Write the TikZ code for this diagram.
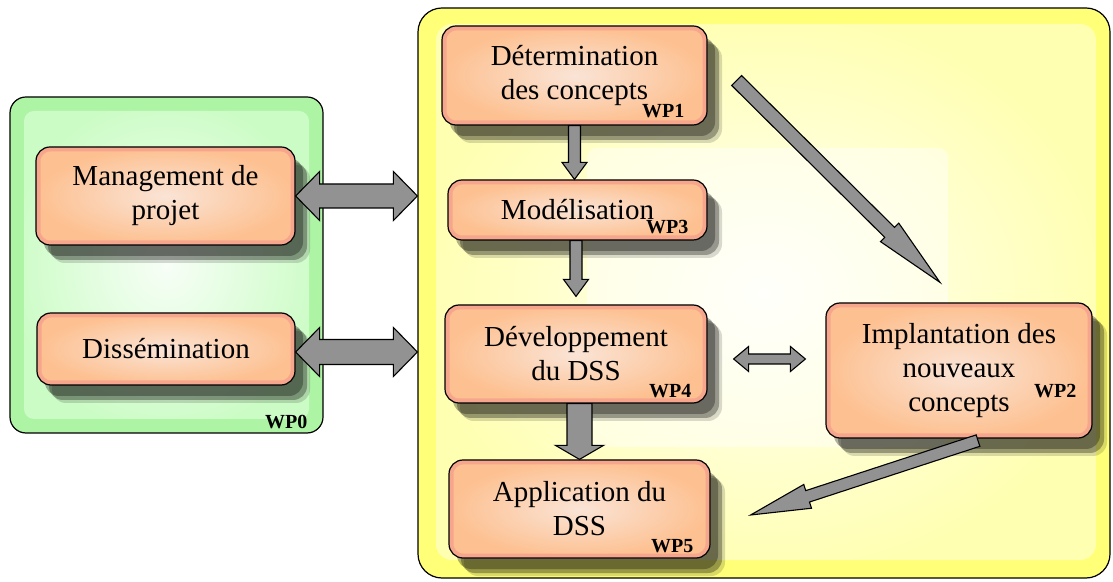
\documentclass[tikz,border=0pt]{standalone}
\usepackage{fontspec}
\setmainfont{Liberation Serif}
\usetikzlibrary{calc,shadows,positioning}
\definecolor{cbox}{RGB}{253,192,144}
\definecolor{cboxin}{RGB}{250,228,214}
\definecolor{crim}{RGB}{247,166,142}
\definecolor{cgreen}{RGB}{173,244,165}
\definecolor{cgreenin}{RGB}{204,252,198}
\definecolor{cyellow}{RGB}{255,255,120}
\definecolor{cyellowin}{RGB}{255,255,178}
\definecolor{carrow}{RGB}{146,146,146}
\newcommand{\boxfont}{\fontsize{29}{34}\selectfont}
\newcommand{\wpfont}{\fontsize{20}{20}\selectfont\bfseries}
% block arrow: tail, tip, shaft half width, head half width, head length
\newcommand{\blockarrow}[5]{%
  \coordinate (ba-h) at ($(#2)!#5!(#1)$);
  \draw[barrow] ($(#1)!#3!90:(#2)$) -- ($(ba-h)!#3!-90:(#1)$) -- ($(ba-h)!#4!-90:(#1)$) -- (#2)
    -- ($(ba-h)!#4!90:(#1)$) -- ($(ba-h)!#3!90:(#1)$) -- ($(#1)!#3!-90:(#2)$) -- cycle;}
% same, with a head at both ends
\newcommand{\dblarrow}[5]{%
  \coordinate (da-a) at ($(#1)!#5!(#2)$);
  \coordinate (da-b) at ($(#2)!#5!(#1)$);
  \draw[barrow] (#1) -- ($(da-a)!#4!90:(#2)$) -- ($(da-a)!#3!90:(#2)$) -- ($(da-b)!#3!-90:(#1)$)
    -- ($(da-b)!#4!-90:(#1)$) -- (#2) -- ($(da-b)!#4!90:(#1)$) -- ($(da-b)!#3!90:(#1)$)
    -- ($(da-a)!#3!-90:(#2)$) -- ($(da-a)!#4!-90:(#2)$) -- cycle;}
\tikzset{
  barrow/.style={fill=carrow, draw=black, line width=1.1pt, line join=miter},
  bgbox/.style={draw=black, line width=1.2pt, rounded corners=16pt, inner sep=0pt},
  wpbox/.style={draw=black, line width=1.2pt, rounded corners=14pt, inner sep=2pt,
    align=center, font=\boxfont, inner color=cboxin, outer color=cbox,
    drop shadow={shadow xshift=8pt, shadow yshift=-11pt, fill=black, opacity=.3},
    drop shadow={shadow xshift=12pt, shadow yshift=-15pt, fill=black, opacity=.3},
    drop shadow={shadow xshift=15pt, shadow yshift=-18pt, fill=black, opacity=.15},
    path picture={\draw[crim, line width=9pt, rounded corners=14pt]
      (path picture bounding box.south west) rectangle (path picture bounding box.north east);}},
  wplabel/.style={font=\wpfont, inner sep=0pt, anchor=base east},
}
\begin{document}
\begin{tikzpicture}[x=1pt,y=1pt]
  \useasboundingbox (0,0) rectangle (1113,581);
  \node[bgbox, fill=cgreen, minimum width=313pt, minimum height=336pt,
    path picture={\fill[inner color=white!85!cgreenin, outer color=cgreenin, rounded corners=10pt]
      ([shift={(14,14)}]path picture bounding box.south west) rectangle ([shift={(-14,-14)}]path picture bounding box.north east);}]
    (wpzero) at (166.5,316) {};
  \node[bgbox, fill=cyellow, rounded corners=24pt, minimum width=692pt, minimum height=570pt,
    path picture={\fill[inner color=white!92!cyellowin, outer color=cyellowin, rounded corners=16pt]
      ([shift={(18,18)}]path picture bounding box.south west) rectangle ([shift={(-14,-16)}]path picture bounding box.north east);}]
    (core) at (764,288) {};
  \fill[white, opacity=.45, rounded corners=10pt] (587,134) rectangle (948,433);

  \node[wpbox, minimum width=259pt, minimum height=98pt] (mgmt) at (165.5,385) {Management de\\projet};
  \node[wpbox, minimum width=258pt, minimum height=72pt] (diss) at (166,232) {Dissémination};
  \node[wpbox, minimum width=265pt, minimum height=99pt] (det) at (574.5,505.5) {Détermination\\des concepts};
  \node[wpbox, minimum width=259pt, minimum height=60pt] (mod) at (577.5,371) {Modélisation};
  \node[wpbox, minimum width=262pt, minimum height=98pt] (dev) at (576,227) {Développement\\du DSS};
  \node[wpbox, minimum width=261pt, minimum height=98pt] (app) at (579.5,72) {Application du\\DSS};
  \node[wpbox, minimum width=266pt, minimum height=135pt] (impl) at (959,210.5) {Implantation des\\nouveaux\\concepts};

  \node[wplabel] (wp0) at ([shift={(-16,5)}]wpzero.south east) {WP0};
  \node[wplabel] (wp1) at ([shift={(-23,8)}]det.south east) {WP1};
  \node[wplabel] (wp3) at ([shift={(-19,7)}]mod.south east) {WP3};
  \node[wplabel] (wp4) at ([shift={(-16,6)}]dev.south east) {WP4};
  \node[wplabel] (wp5) at ([shift={(-17,6)}]app.south east) {WP5};
  \node[wplabel] (wp2) at ([shift={(-16,41)}]impl.south east) {WP2};

  \coordinate (mgmt-in) at (mgmt.east -| core.west);
  \coordinate (diss-in) at ([yshift=-3]diss.east -| core.west);
  \coordinate (diss-out) at ([yshift=-3]diss.east);
  \coordinate (mod-in) at (det.south |- mod.north);
  \coordinate (mod-out) at (mod.south -| dev.north);
  \coordinate (dev-in) at ([yshift=8]dev.north);
  \coordinate (dev-out) at (dev.south -| app.north);
  \coordinate (dev-side) at ([shift={(26,-5)}]dev.east);
  \coordinate (impl-side) at (impl.west |- dev-side);
  \coordinate (impl-side) at ([xshift=-20]impl-side);
  \coordinate (det-out) at ([shift={(29,-5)}]det.east);
  \coordinate (impl-in) at ([shift={(-19,20)}]impl.north);
  \coordinate (impl-out) at ([shift={(19,-2)}]impl.south);
  \coordinate (app-in) at ([shift={(40,-6)}]app.east);

  \dblarrow{mgmt.east}{mgmt-in}{12pt}{24.5pt}{24pt}
  \dblarrow{diss-out}{diss-in}{12.5pt}{24.5pt}{24pt}
  \blockarrow{det.south}{mod-in}{6pt}{12.5pt}{17pt}
  \blockarrow{mod-out}{dev-in}{6pt}{12.5pt}{17pt}
  \blockarrow{dev-out}{app.north}{12.5pt}{24pt}{14pt}
  \dblarrow{dev-side}{impl-side}{5pt}{12.5pt}{15pt}
  \blockarrow{det-out}{impl-in}{7pt}{13pt}{71pt}
  \blockarrow{impl-out}{app-in}{6pt}{12.5pt}{60pt}
\end{tikzpicture}
\end{document}
